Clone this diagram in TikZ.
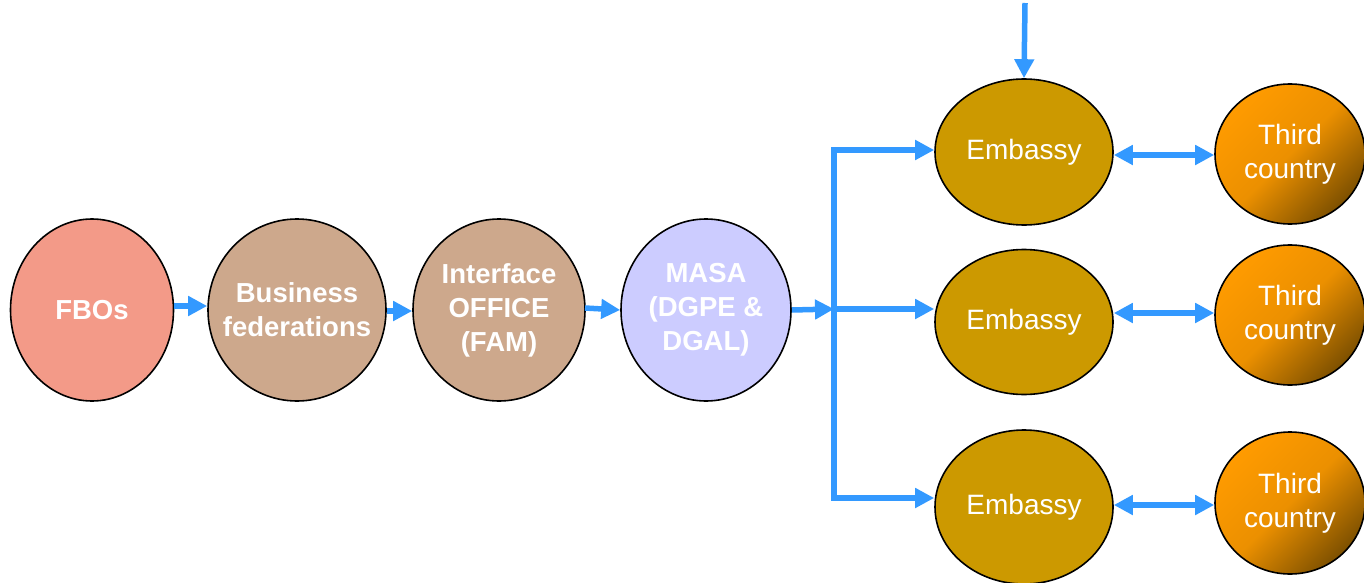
\documentclass[tikz,border=0pt]{standalone}
\usepackage{fontspec}
\setmainfont{Liberation Sans}
\usetikzlibrary{shapes.geometric,arrows.meta}
\definecolor{fbo}{RGB}{243,154,136}
\definecolor{fed}{RGB}{205,168,140}
\definecolor{masa}{RGB}{204,204,255}
\definecolor{emb}{RGB}{204,153,0}
\definecolor{tcA}{RGB}{255,155,0}
\definecolor{tcB}{RGB}{125,80,0}
\definecolor{arr}{RGB}{51,153,255}
\tikzset{
  blob/.style={ellipse,draw=black,line width=1.6pt,inner sep=-60pt,text=white,align=center,font=\fontsize{28}{34}\selectfont},
  boldblob/.style={blob,font=\bfseries\fontsize{27.5}{34}\selectfont},
  tc/.style={blob,top color=tcA,bottom color=tcB,middle color=tcA!85!tcB,shading angle=45,minimum width=150pt,minimum height=140pt},
  embn/.style={blob,fill=emb,minimum width=178pt},
  conn/.style={draw=arr,line width=5.5pt,-{Triangle[length=19pt,width=19pt]}},
  dconn/.style={draw=arr,line width=5.5pt,{Triangle[length=19pt,width=19pt]}-{Triangle[length=19pt,width=19pt]}},
  bus/.style={draw=arr,line width=5.5pt}
}
\begin{document}
\begin{tikzpicture}[x=1pt,y=-1pt]
\useasboundingbox (0,0) rectangle (1364,583);
\node[boldblob,fill=fbo,minimum width=163pt,minimum height=182pt] (fbo) at (92,310) {FBOs};
\node[boldblob,fill=fed,minimum width=178pt,minimum height=182pt] (fed) at (297,310) {Business\\federations};
\node[boldblob,fill=fed,minimum width=172pt,minimum height=182pt] (ifo) at (499,310) {Interface\\OFFICE\\(FAM)};
\node[boldblob,fill=masa,minimum width=170pt,minimum height=182pt] (masa) at (706,310) {MASA\\(DGPE \&\\DGAL)};
\node[embn,minimum height=146pt] (e1) at (1024,152) {Embassy};
\node[embn,minimum height=145pt] (e2) at (1024,322) {Embassy};
\node[embn,minimum height=154pt] (e3) at (1024,507) {Embassy};
\node[tc] (t1) at (1290,154) {Third\\country};
\node[tc] (t2) at (1290,315) {Third\\country};
\node[tc,minimum height=142pt] (t3) at (1290,503) {Third\\country};
\coordinate (bt) at (834,150);
\coordinate (bm) at (834,309);
\coordinate (bb) at (834,498);
\coordinate (top) at (1025,3);
\draw[conn] (fbo.east |- 0,306) -- (fed.west |- 0,306);
\draw[conn] (fed.east |- 0,311) -- (ifo.west |- 0,311);
\draw[conn] (585,308) -- (masa.west);
\draw[conn] (masa.east) -- (bm);
\draw[bus] (834,147.25) -- (834,500.75);
\draw[conn] (bt) -- (e1.west |- bt);
\draw[conn] (bm) -- (e2.west |- bm);
\draw[conn] (bb) -- (e3.west |- bb);
\draw[conn] (top) -- (e1.north);
\draw[dconn] (e1.east |- 0,155) -- (t1.west |- 0,155);
\draw[dconn] (e2.east |- 0,313) -- (t2.west |- 0,313);
\draw[dconn] (e3.east |- 0,505) -- (t3.west |- 0,505);
\end{tikzpicture}
\end{document}
